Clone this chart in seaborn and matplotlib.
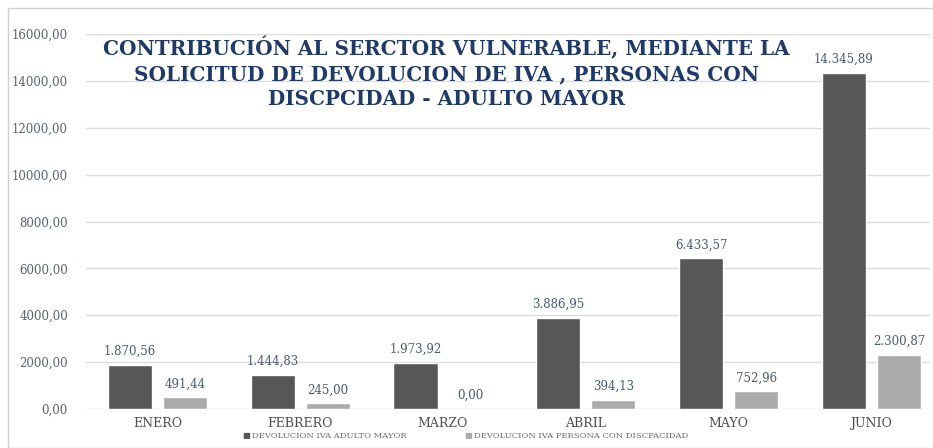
import matplotlib
matplotlib.use("Agg")
import matplotlib.pyplot as plt
import seaborn as sns
import pandas as pd
from matplotlib.patches import Rectangle

months = ["ENERO", "FEBRERO", "MARZO", "ABRIL", "MAYO", "JUNIO"]
adulto_mayor = [1870.56, 1444.83, 1973.92, 3886.95, 6433.57, 14345.89]
discapacidad = [491.44, 245.00, 0.00, 394.13, 752.96, 2300.87]
series_names = ["DEVOLUCION IVA ADULTO MAYOR", "DEVOLUCION IVA PERSONA CON DISCPACIDAD"]
yticks = [0, 2000, 4000, 6000, 8000, 10000, 12000, 14000, 16000]
ytick_labels = ["0,00", "2000,00", "4000,00", "6000,00", "8000,00",
                "10000,00", "12000,00", "14000,00", "16000,00"]
title = ("CONTRIBUCIÓN AL SERCTOR VULNERABLE, MEDIANTE LA\n"
         "SOLICITUD DE DEVOLUCION DE IVA , PERSONAS CON\n"
         "DISCPCIDAD - ADULTO MAYOR")

df = pd.DataFrame({
    "mes": months * 2,
    "valor": adulto_mayor + discapacidad,
    "serie": [series_names[0]] * len(months) + [series_names[1]] * len(months),
})

sns.set_theme(style="white")
plt.rcParams["font.family"] = ["DejaVu Serif", "DejaVu Sans"]

fig = plt.figure(figsize=(9.33, 4.48), dpi=100)
ax = fig.add_axes([86 / 933, 1 - 409 / 448, (930 - 86) / 933, (409 - 34) / 448])

colors = ["#575757", "#ababab"]
palette = dict(zip(series_names, colors))
sns.barplot(data=df, x="mes", y="valor", hue="serie", order=months,
            hue_order=series_names, palette=palette, width=0.77, gap=0.195,
            ax=ax, legend=False, saturation=1)

def fmt(v):
    s = f"{v:,.2f}"
    return s.replace(",", "X").replace(".", ",").replace("X", ".")

for cont in ax.containers:
    ax.bar_label(cont, labels=[fmt(v) for v in cont.datavalues], padding=5,
                 fontsize=8.5, color="#4a5a72")

ax.set_xlim(-0.5, 5.41)
ax.set_ylim(0, 16000)
ax.set_yticks(yticks)
ax.set_yticklabels(ytick_labels, fontsize=8.5, color="#5a6270")
ax.tick_params(axis="y", pad=13, length=0)
ax.tick_params(axis="x", pad=6, length=0, labelsize=9, labelcolor="#4a4f58")
ax.set_xlabel("")
ax.set_ylabel("")
ax.yaxis.grid(True, color="#dcdcdc", linewidth=1)
ax.set_axisbelow(True)
for sp in ax.spines.values():
    sp.set_visible(False)

fig.text(446 / 933, 1 - 73 / 448, title, ha="center", va="center",
         fontsize=14.4, fontweight="bold", color="#1f3a68", linespacing=1.3)

# legend
ly = 1 - 436 / 448
for x0, name, col in [(242, series_names[0], colors[0]), (464, series_names[1], colors[1])]:
    fig.text(x0 / 933, ly, "■", fontsize=6.0, color=col, ha="left", va="center")
    fig.text((x0 + 10) / 933, ly, name, fontsize=6.0, color="#6a6a6a",
             ha="left", va="center")

fig.patches.append(Rectangle((8 / 933, 0), 1, 1 - 8 / 448, transform=fig.transFigure,
                             fill=False, edgecolor="#d0d0d0", linewidth=1))

fig.savefig("out.png", dpi=100, facecolor="white")
